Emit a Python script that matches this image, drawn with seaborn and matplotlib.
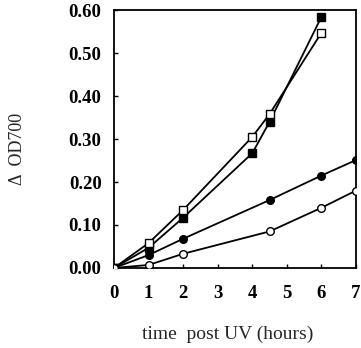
import matplotlib
matplotlib.use("Agg")
import matplotlib.pyplot as plt
import seaborn as sns
import pandas as pd

# Time points (hours after UV)
t_squares = [0, 1, 2, 4, 4.5, 6]
t_circles = [0, 1, 2, 4.5, 6, 7]

# Change in OD700 for each culture
od_square_filled = [0.0, 0.047, 0.117, 0.267, 0.340, 0.584]
od_square_open = [0.0, 0.058, 0.135, 0.305, 0.358, 0.547]
od_circle_filled = [0.0, 0.030, 0.068, 0.158, 0.215, 0.251]
od_circle_open = [0.0, 0.007, 0.033, 0.085, 0.140, 0.180]

x_ticks = [0, 1, 2, 3, 4, 5, 6, 7]
y_ticks = [0.00, 0.10, 0.20, 0.30, 0.40, 0.50, 0.60]

sns.set_style("ticks")
plt.rcParams["font.family"] = ["Liberation Serif", "DejaVu Serif"]

fig = plt.figure(figsize=(3.61, 3.48), dpi=100)
ax = fig.add_axes([0.316, 0.23, 0.670, 0.741])

series = [
    (t_squares, od_square_filled, "s", "black"),
    (t_squares, od_square_open, "s", "white"),
    (t_circles, od_circle_filled, "o", "black"),
    (t_circles, od_circle_open, "o", "white"),
]
for t, od, mk, fc in series:
    df = pd.DataFrame({"t": t, "od": od})
    sns.lineplot(data=df, x="t", y="od", ax=ax, color="black", linewidth=1.3,
                 marker=mk, markersize=5.5, markerfacecolor=fc,
                 markeredgecolor="black", markeredgewidth=1.0, zorder=3)

ax.set_xlim(0, 7)
ax.set_ylim(0, 0.6)
ax.set_xticks(x_ticks)
ax.set_yticks(y_ticks)
ax.set_xticklabels([str(v) for v in x_ticks], fontsize=13.5, fontweight="bold")
ax.set_yticklabels([f"{v:.2f}" for v in y_ticks], fontsize=13.5, fontweight="bold")
ax.tick_params(axis="x", direction="in", length=3, width=1, pad=12, colors="black")
ax.tick_params(axis="y", direction="in", length=3, width=1, pad=9, colors="black")
for s in ax.spines.values():
    s.set_linewidth(1.3)
    s.set_color("black")

ax.set_xlabel("time  post UV (hours)", fontsize=14, labelpad=18)
ax.xaxis.set_label_coords(0.47, -0.225)
ax.set_ylabel("\u0394  OD700", fontsize=13, family=["Liberation Serif", "DejaVu Sans"])
ax.yaxis.set_label_coords(-0.365, 0.46)

fig.savefig("out.png", dpi=100)
